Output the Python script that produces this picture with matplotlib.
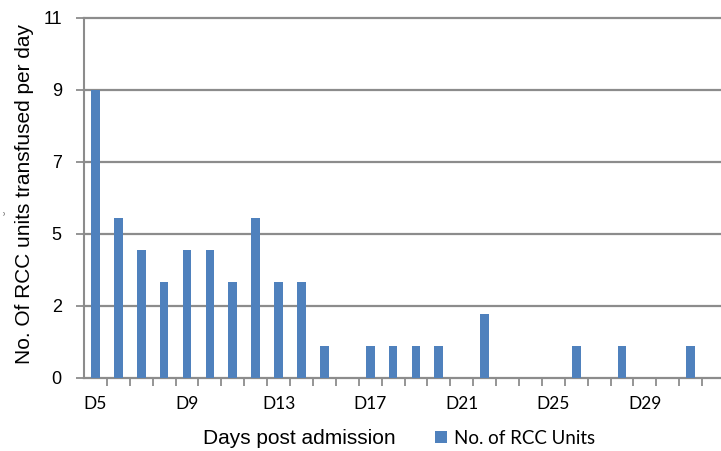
"""Units of RCC transfused per day, by day post admission."""

import matplotlib

matplotlib.use("Agg")

import matplotlib.pyplot as plt
import numpy as np
from matplotlib.lines import Line2D
from matplotlib.patches import Patch


days = [f"D{d}" for d in range(5, 33)]
units = [9, 5, 4, 3, 4, 4, 3, 5, 3, 3, 1, 0, 1, 1, 1, 1, 0, 2, 0, 0, 0, 1, 0, 1, 0, 0, 1, 0]
y_ticks = [0, 2.25, 4.5, 6.75, 9, 11.25]
y_tick_labels = ["0", "2", "5", "7", "9", "11"]

BAR_COLOR = "#4F81BD"
GRID_COLOR = "#8C8C8C"


def main() -> None:
    fig = plt.figure(figsize=(7.21, 4.51), dpi=100)
    ax = fig.add_axes([84 / 721, 73 / 451, 641 / 721, 360 / 451])

    x = np.arange(len(days))
    ax.bar(x, units, width=0.38, color=BAR_COLOR, zorder=3)

    ax.set_xlim(-0.5, len(days) - 0.5)
    ax.set_ylim(0, y_ticks[-1])

    for spine in ["top", "right", "bottom"]:
        ax.spines[spine].set_visible(False)
    ax.spines["left"].set_color(GRID_COLOR)
    ax.spines["left"].set_linewidth(1.5)

    for yv in y_ticks:
        ax.add_line(Line2D([-0.5, len(days) - 0.5], [yv, yv], color=GRID_COLOR,
                           linewidth=1.6, zorder=1, clip_on=False))

    ax.set_yticks(y_ticks)
    ax.set_yticklabels(y_tick_labels, fontsize=13, family="Liberation Sans")
    ax.tick_params(axis="y", length=6, width=1.3, color=GRID_COLOR, pad=10)

    label_idx = list(range(0, len(days), 4))
    ax.set_xticks(label_idx)
    ax.set_xticklabels([days[i] for i in label_idx], fontsize=12.5, family="Lato")
    ax.tick_params(axis="x", which="major", length=0, pad=13)
    ax.set_xticks(np.arange(len(days) - 1) + 0.5, minor=True)
    ax.tick_params(axis="x", which="minor", length=6, width=1.3, color=GRID_COLOR)

    ax.set_ylabel("No. Of RCC units transfused per day", fontsize=15,
                  family="Liberation Sans")
    ax.yaxis.set_label_coords(-0.078, 0.51)
    fig.text(299 / 721, 1 - 438 / 451, "Days post admission", fontsize=15,
             family="Liberation Sans", ha="center", va="center")
    fig.text(9 / 721, 1 - 212 / 451, "\u02d8", fontsize=9, color="#888888",
             rotation=90, ha="center", va="center")

    handle = Patch(facecolor=BAR_COLOR, edgecolor="none")
    fig.legend([handle], ["No. of RCC Units"], loc="center left",
               bbox_to_anchor=(426 / 721, 1 - 438 / 451), frameon=False,
               prop={"family": "Lato", "size": 13.5}, handlelength=0.6,
               handleheight=0.6, handletextpad=0.4, borderpad=0)

    fig.savefig("out.png", dpi=100)
    plt.close(fig)


if __name__ == "__main__":
    main()
